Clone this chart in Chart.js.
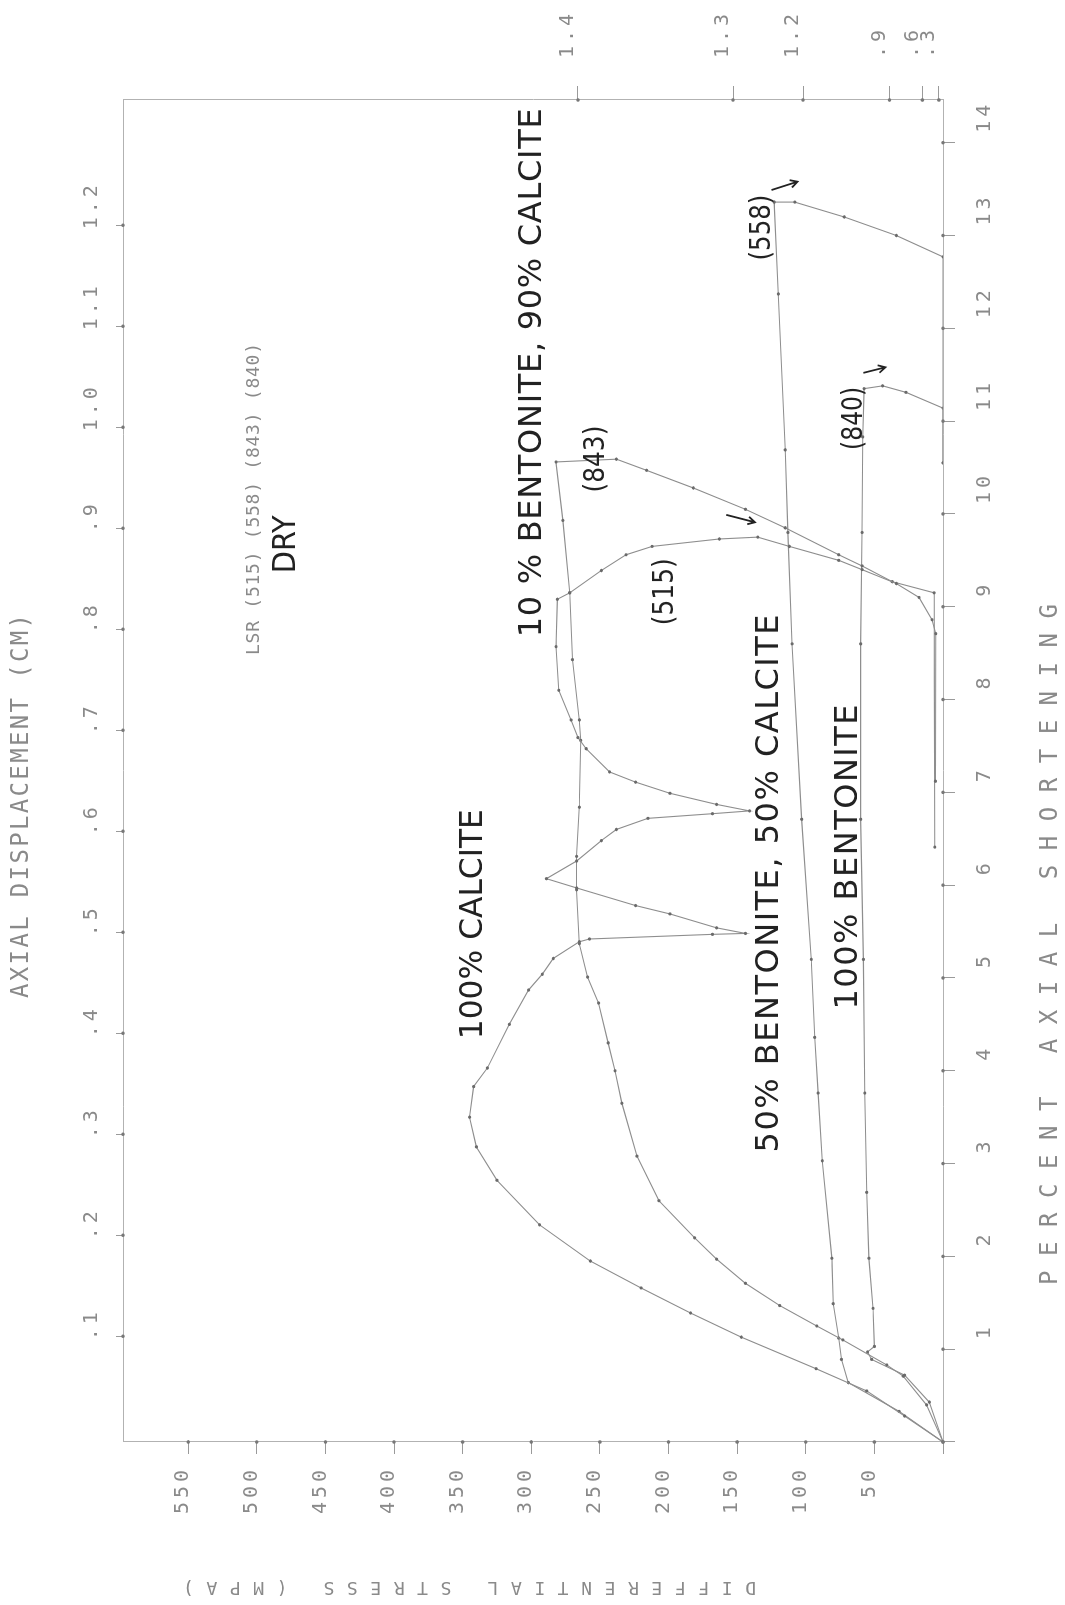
<!DOCTYPE html>
<html>
<head>
<meta charset="utf-8">
<title>Differential stress vs percent axial shortening</title>
<script src="https://cdn.jsdelivr.net/npm/chart.js@4.4.1/dist/chart.umd.min.js"></script>
<style>
  html, body { margin: 0; padding: 0; background: #fff; }
  body { width: 1065px; height: 1605px; overflow: hidden; position: relative; }
  /* the plot is drawn the normal way round, then turned a quarter turn like the scan */
  #turn { position: absolute; left: 0; top: 0; width: 1605px; height: 1065px;
          transform-origin: 0 0; transform: translateY(1605px) rotate(-90deg); }
</style>
</head>
<body>
<div id="turn"><canvas id="chart" width="1605" height="1065"></canvas></div>
<script>
// percent axial shortening (x) / differential stress in MPa (y)

// 100% calcite (515)
const calcitePct = [0, 0.28, 0.55, 0.79, 1.13, 1.39, 1.66, 1.95, 2.34, 2.82, 3.18, 3.50, 3.83, 4.03, 4.50, 4.87,
  5.04, 5.21, 5.39, 5.42, 5.47, 5.48, 5.54, 5.69, 5.78, 5.97, 6.07, 6.26, 6.48, 6.60, 6.72, 6.77, 6.80, 6.87,
  6.99, 7.11, 7.22, 7.47, 7.59, 7.78, 8.10, 8.57, 9.08, 9.15, 9.39, 9.56, 9.65, 9.73, 9.75,
  9.65, 9.50, 9.40, 9.25, 9.10, 8.86, 8.71, 7.12];
const calciteMpa = [0, 28, 55.6, 92.5, 147, 184, 220, 257, 294, 325, 340, 345, 342, 332, 316, 302,
  292, 284, 265, 257.6, 168, 144, 165, 199, 224, 267, 289, 267, 249, 238, 215, 168, 141, 165,
  199, 224, 243, 260, 266, 271, 280, 282, 281, 272, 249, 231, 212, 163, 135,
  112, 76, 59, 34, 17.5, 8, 5.3, 5.5];

// 10% bentonite, 90% calcite (843)
const bent10Pct = [0, 0.40, 0.71, 0.83, 1.10, 1.25, 1.47, 1.71, 1.97, 2.20, 2.60, 3.08, 3.65, 4.00, 4.30, 4.73,
  5.01, 5.37, 5.95, 6.31, 6.84, 7.56, 7.78, 8.43, 9.15, 9.93, 10.56, 10.59, 10.47, 10.28, 10.05, 9.85,
  9.56, 9.44, 9.27, 9.15, 6.41];
const bent10Mpa = [0, 12, 29, 41, 73, 92, 119, 144, 165, 181, 207, 223, 234, 239, 244, 251,
  259, 265, 267, 267, 265, 264, 265, 270, 272, 277, 282, 238, 216, 182, 144, 115,
  76, 59, 37, 6.5, 6];

// 50% bentonite, 50% calcite (558)
const bent50Pct = [0, 0.33, 0.64, 0.89, 1.12, 1.49, 1.98, 3.03, 3.76, 4.36, 5.20, 6.71, 8.60, 9.80, 10.69,
  12.37, 13.36, 13.36, 13.20, 13.00, 12.77, 10.55];
const bent50Mpa = [0, 32, 69, 74, 76, 80, 81, 88, 91, 93.5, 96, 103, 110, 113, 115,
  120, 123, 108, 72, 34, 0, 0];

// 100% bentonite (840)
const bent100Pct = [0, 0.43, 0.72, 0.89, 0.97, 1.03, 1.44, 1.98, 2.69, 3.76, 5.20, 6.71, 8.60, 9.80, 10.83,
  11.35, 11.38, 11.31, 11.14, 10.55];
const bent100Mpa = [0, 10, 28, 52, 55, 50, 51, 54, 55.6, 57, 58, 60, 60, 59, 58.5,
  57.5, 44, 27, 0, 0];

// axis ticks
const percentTicks = [0, 1, 2, 3, 4, 5, 6, 7, 8, 9, 10, 11, 12, 13, 14];
const stressTicks = [0, 50, 100, 150, 200, 250, 300, 350, 400, 450, 500, 550];
const displacementTicks = [0.1, 0.2, 0.3, 0.4, 0.5, 0.6, 0.7, 0.8, 0.9, 1.0, 1.1, 1.2];
const displacementLabels = ['.1', '.2', '.3', '.4', '.5', '.6', '.7', '.8', '.9', '1.0', '1.1', '1.2'];
const rightTickValues = [266, 153, 102, 39, 15, 3];
const rightTickLabels = ['1.4', '1.3', '1.2', '.9', '.6', '.3'];

const GREY = '#8a8a8a';
const MONO = '"DejaVu Sans Mono", monospace';
const HAND = '"DejaVu Sans", sans-serif';

// handwritten notes, anchored at the start of the text (percent, MPa), w = text length in px
const notes = [
  { text: 'LSR (515) (558) (843) (840)', p: 8.48, s: 502, w: 312, font: '18px ' + MONO, color: GREY },
  { text: 'DRY', p: 9.36, s: 478, w: 58, font: '32px ' + HAND, color: '#222' },
  { text: '10 % BENTONITE, 90% CALCITE', p: 8.67, s: 299, w: 529, font: '32px ' + HAND, color: '#222' },
  { text: '(843)', p: 10.23, s: 252, w: 67, font: '28px ' + HAND, color: '#222' },
  { text: '(515)', p: 8.80, s: 202, w: 67, font: '28px ' + HAND, color: '#222' },
  { text: '(558)', p: 12.73, s: 131, w: 66, font: '28px ' + HAND, color: '#222' },
  { text: '(840)', p: 10.69, s: 64, w: 63, font: '28px ' + HAND, color: '#222' },
  { text: '100% CALCITE', p: 4.34, s: 342, w: 230, font: '32px ' + HAND, color: '#222' },
  { text: '50% BENTONITE, 50% CALCITE', p: 3.12, s: 126, w: 538, font: '32px ' + HAND, color: '#222' },
  { text: '100% BENTONITE', p: 4.66, s: 68.5, w: 305, font: '32px ' + HAND, color: '#222' }
];
const arrows = [
  { p1: 13.49, s1: 125, p2: 13.58, s2: 106 },
  { p1: 11.52, s1: 58, p2: 11.58, s2: 42 },
  { p1: 9.99, s1: 158, p2: 9.91, s2: 137 }
];

function points(xs, ys) {
  return xs.map((x, i) => ({ x: x, y: ys[i] }));
}

function curve(label, xs, ys) {
  return {
    label: label,
    data: points(xs, ys),
    borderColor: '#8e8e8e',
    borderWidth: 1.1,
    pointRadius: 1.6,
    pointHoverRadius: 1.6,
    pointBackgroundColor: '#6a6a6a',
    pointBorderWidth: 0,
    fill: false,
    tension: 0
  };
}

// stretch or squeeze a string to a given length
function fitText(ctx, text, x, y, w) {
  ctx.letterSpacing = '0px';
  const m = ctx.measureText(text).width;
  if (w >= m) {
    ctx.letterSpacing = ((w - m) / Math.max(text.length - 1, 1)) + 'px';
    ctx.fillText(text, x, y);
  } else {
    ctx.save();
    ctx.translate(x, y);
    ctx.scale(w / m, 1);
    ctx.fillText(text, 0, 0);
    ctx.restore();
  }
  ctx.letterSpacing = '0px';
}

const plotterLook = {
  id: 'plotterLook',
  beforeDraw(chart) {
    const ctx = chart.ctx;
    ctx.save();
    ctx.fillStyle = '#fff';
    ctx.fillRect(0, 0, chart.width, chart.height);
    ctx.restore();
    ctx.letterSpacing = '4px'; // widely spaced plotter digits on the axes
  },
  afterDraw(chart) {
    const ctx = chart.ctx;
    const a = chart.chartArea;
    const sx = chart.scales.x, sy = chart.scales.y;
    ctx.letterSpacing = '0px';

    // pen dots where each tick meets its axis
    ctx.save();
    ctx.fillStyle = '#777';
    const dot = (x, y) => { ctx.beginPath(); ctx.arc(x, y, 1.8, 0, Math.PI * 2); ctx.fill(); };
    sx.ticks.forEach(t => dot(sx.getPixelForValue(t.value), a.bottom));
    chart.scales.xTop.ticks.forEach(t => dot(chart.scales.xTop.getPixelForValue(t.value), a.top));
    sy.ticks.forEach(t => dot(a.left, sy.getPixelForValue(t.value)));
    chart.scales.yRight.ticks.forEach(t => dot(a.right, chart.scales.yRight.getPixelForValue(t.value)));
    ctx.restore();

    // axis titles
    ctx.save();
    ctx.fillStyle = GREY;
    ctx.textBaseline = 'middle';
    ctx.textAlign = 'left';
    ctx.font = '24px ' + MONO;
    fitText(ctx, 'PERCENT AXIAL SHORTENING', 320, 1051, 681);
    fitText(ctx, 'AXIAL DISPLACEMENT (CM)', 607, 22, 384);
    ctx.font = '18px ' + MONO;
    ctx.translate(18, 756);
    ctx.rotate(-Math.PI / 2);
    fitText(ctx, 'DIFFERENTIAL STRESS (MPA)', 0, 0, 573);
    ctx.restore();

    // notes written on the plot
    ctx.save();
    ctx.textBaseline = 'middle';
    ctx.textAlign = 'left';
    notes.forEach(n => {
      ctx.font = n.font;
      ctx.fillStyle = n.color;
      fitText(ctx, n.text, sx.getPixelForValue(n.p), sy.getPixelForValue(n.s), n.w);
    });

    ctx.strokeStyle = '#222';
    ctx.lineWidth = 1.8;
    arrows.forEach(r => {
      const x1 = sx.getPixelForValue(r.p1), y1 = sy.getPixelForValue(r.s1);
      const x2 = sx.getPixelForValue(r.p2), y2 = sy.getPixelForValue(r.s2);
      const ang = Math.atan2(y2 - y1, x2 - x1);
      ctx.beginPath();
      ctx.moveTo(x1, y1);
      ctx.lineTo(x2, y2);
      ctx.moveTo(x2 - 8 * Math.cos(ang - 0.5), y2 - 8 * Math.sin(ang - 0.5));
      ctx.lineTo(x2, y2);
      ctx.lineTo(x2 - 8 * Math.cos(ang + 0.5), y2 - 8 * Math.sin(ang + 0.5));
      ctx.stroke();
    });
    ctx.restore();
  }
};

const tickFont = { family: MONO, size: 20 };
const axisGrid = (len) => ({ drawOnChartArea: false, drawTicks: true, tickLength: len, tickColor: '#9a9a9a', tickWidth: 1 });
const axisBorder = { color: '#b2b2b2', width: 1 };

const ctx = document.getElementById('chart').getContext('2d');

const chart = new Chart(ctx, {
  type: 'line',
  data: {
    datasets: [
      curve('100% calcite (515)', calcitePct, calciteMpa),
      curve('10% bentonite, 90% calcite (843)', bent10Pct, bent10Mpa),
      curve('50% bentonite, 50% calcite (558)', bent50Pct, bent50Mpa),
      curve('100% bentonite (840)', bent100Pct, bent100Mpa)
    ]
  },
  options: {
    responsive: false,
    animation: false,
    layout: { padding: 0 },
    plugins: {
      legend: { display: false },
      tooltip: { enabled: false },
      title: { display: false }
    },
    scales: {
      x: {
        type: 'linear',
        position: 'bottom',
        min: 0,
        max: 14.46,
        afterBuildTicks: s => { s.ticks = percentTicks.map(v => ({ value: v })); },
        afterFit: s => { s.height = 122; },
        ticks: {
          autoSkip: false, maxRotation: 0,
          align: 'start', labelOffset: 10, padding: 18,
          color: GREY, font: tickFont,
          callback: v => (v === 0 ? '' : String(v))
        },
        grid: axisGrid(12),
        border: axisBorder
      },
      xTop: {
        type: 'linear',
        position: 'top',
        min: -0.0047,
        max: 1.324,
        afterBuildTicks: s => { s.ticks = displacementTicks.map(v => ({ value: v })); },
        afterFit: s => { s.height = 123; },
        ticks: {
          autoSkip: false, maxRotation: 0, align: 'start', labelOffset: -4, padding: 12,
          color: GREY, font: tickFont,
          callback: (v, i) => displacementLabels[i]
        },
        grid: axisGrid(7),
        border: axisBorder
      },
      y: {
        type: 'linear',
        position: 'left',
        min: 0,
        max: 597.5,
        afterBuildTicks: s => { s.ticks = stressTicks.map(v => ({ value: v })); },
        afterFit: s => { s.width = 163; },
        ticks: {
          autoSkip: false, padding: 12, labelOffset: -5,
          color: GREY, font: tickFont,
          callback: v => (v === 0 ? '' : String(v))
        },
        grid: axisGrid(12),
        border: axisBorder
      },
      yRight: {
        type: 'linear',
        position: 'right',
        min: 0,
        max: 597.5,
        afterBuildTicks: s => { s.ticks = rightTickValues.map(v => ({ value: v })); },
        afterFit: s => { s.width = 100; },
        ticks: {
          autoSkip: false, padding: 28, labelOffset: -10,
          color: GREY, font: tickFont,
          callback: (v, i) => rightTickLabels[i]
        },
        grid: axisGrid(14),
        border: axisBorder
      }
    }
  },
  plugins: [plotterLook]
});
</script>
</body>
</html>
